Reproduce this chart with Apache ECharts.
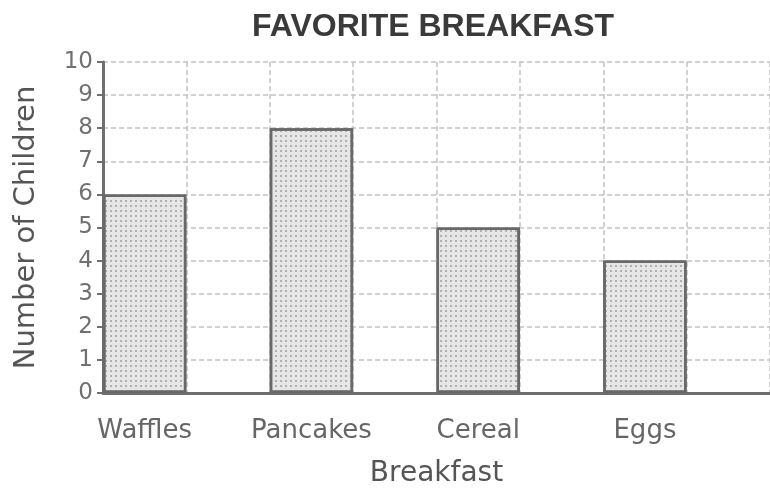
<!DOCTYPE html>
<html>
<head>
<meta charset="utf-8">
<script src="https://cdn.jsdelivr.net/npm/echarts@6/dist/echarts.min.js"></script>
<style>
  html, body { margin: 0; padding: 0; background: #fff; }
  #main { width: 770px; height: 493px; }
</style>
</head>
<body>
<div id="main"></div>
<script>
// chart data
var categories = ['Waffles', 'Pancakes', 'Cereal', 'Eggs'];
var children = [6, 8, 5, 4];
var yTicks = [0, 1, 2, 3, 4, 5, 6, 7, 8, 9, 10];

// each category takes two grid columns, the bar sits in the first one
var slots = [];
var barData = [];
categories.forEach(function (c, i) {
  slots.push(c, '');
  barData.push(children[i], null);
});

var gridLine = { color: '#c2c2c2', width: 1.5, type: [5, 3] };

var chart = echarts.init(document.getElementById('main'));
chart.setOption({
  animation: false,
  title: {
    text: 'FAVORITE BREAKFAST',
    left: 428,
    textAlign: 'center',
    top: 6,
    textStyle: { fontFamily: 'Liberation Sans', fontWeight: 'bold', fontSize: 32, color: '#3a3a3a' }
  },
  grid: { left: 103, right: -1, top: 62, bottom: 100 },
  xAxis: {
    type: 'category',
    data: slots,
    boundaryGap: true,
    name: 'Breakfast',
    nameLocation: 'middle',
    nameGap: 67,
    nameTextStyle: { fontFamily: 'DejaVu Sans', fontSize: 28, color: '#555' },
    axisLine: { lineStyle: { color: '#6e6e6e', width: 3 } },
    axisTick: { show: false },
    axisLabel: { interval: 0, margin: 25, fontFamily: 'DejaVu Sans', fontSize: 26, color: '#666' },
    splitLine: { show: true, lineStyle: gridLine }
  },
  yAxis: {
    type: 'value',
    min: yTicks[0],
    max: yTicks[yTicks.length - 1],
    interval: 1,
    name: 'Number of Children',
    nameLocation: 'middle',
    nameGap: 62,
    nameTextStyle: { fontFamily: 'DejaVu Sans', fontSize: 29, color: '#555' },
    axisLine: { show: true, lineStyle: { color: '#6e6e6e', width: 3 } },
    axisTick: { show: true, length: 6, lineStyle: { color: '#6e6e6e', width: 2 } },
    axisLabel: { margin: 10, fontFamily: 'DejaVu Sans', fontSize: 23, color: '#707070' },
    splitLine: { show: true, lineStyle: gridLine }
  },
  series: [{
    type: 'bar',
    data: barData,
    barCategoryGap: '0%',
    itemStyle: {
      color: '#e6e6e6',
      borderColor: '#686868',
      borderWidth: 2.5,
      decal: {
        symbol: 'rect',
        symbolSize: 1,
        color: 'rgba(140,140,140,0.6)',
        dashArrayX: [2, 3],
        dashArrayY: [2, 3],
        rotation: 0
      }
    }
  }]
});
</script>
</body>
</html>
